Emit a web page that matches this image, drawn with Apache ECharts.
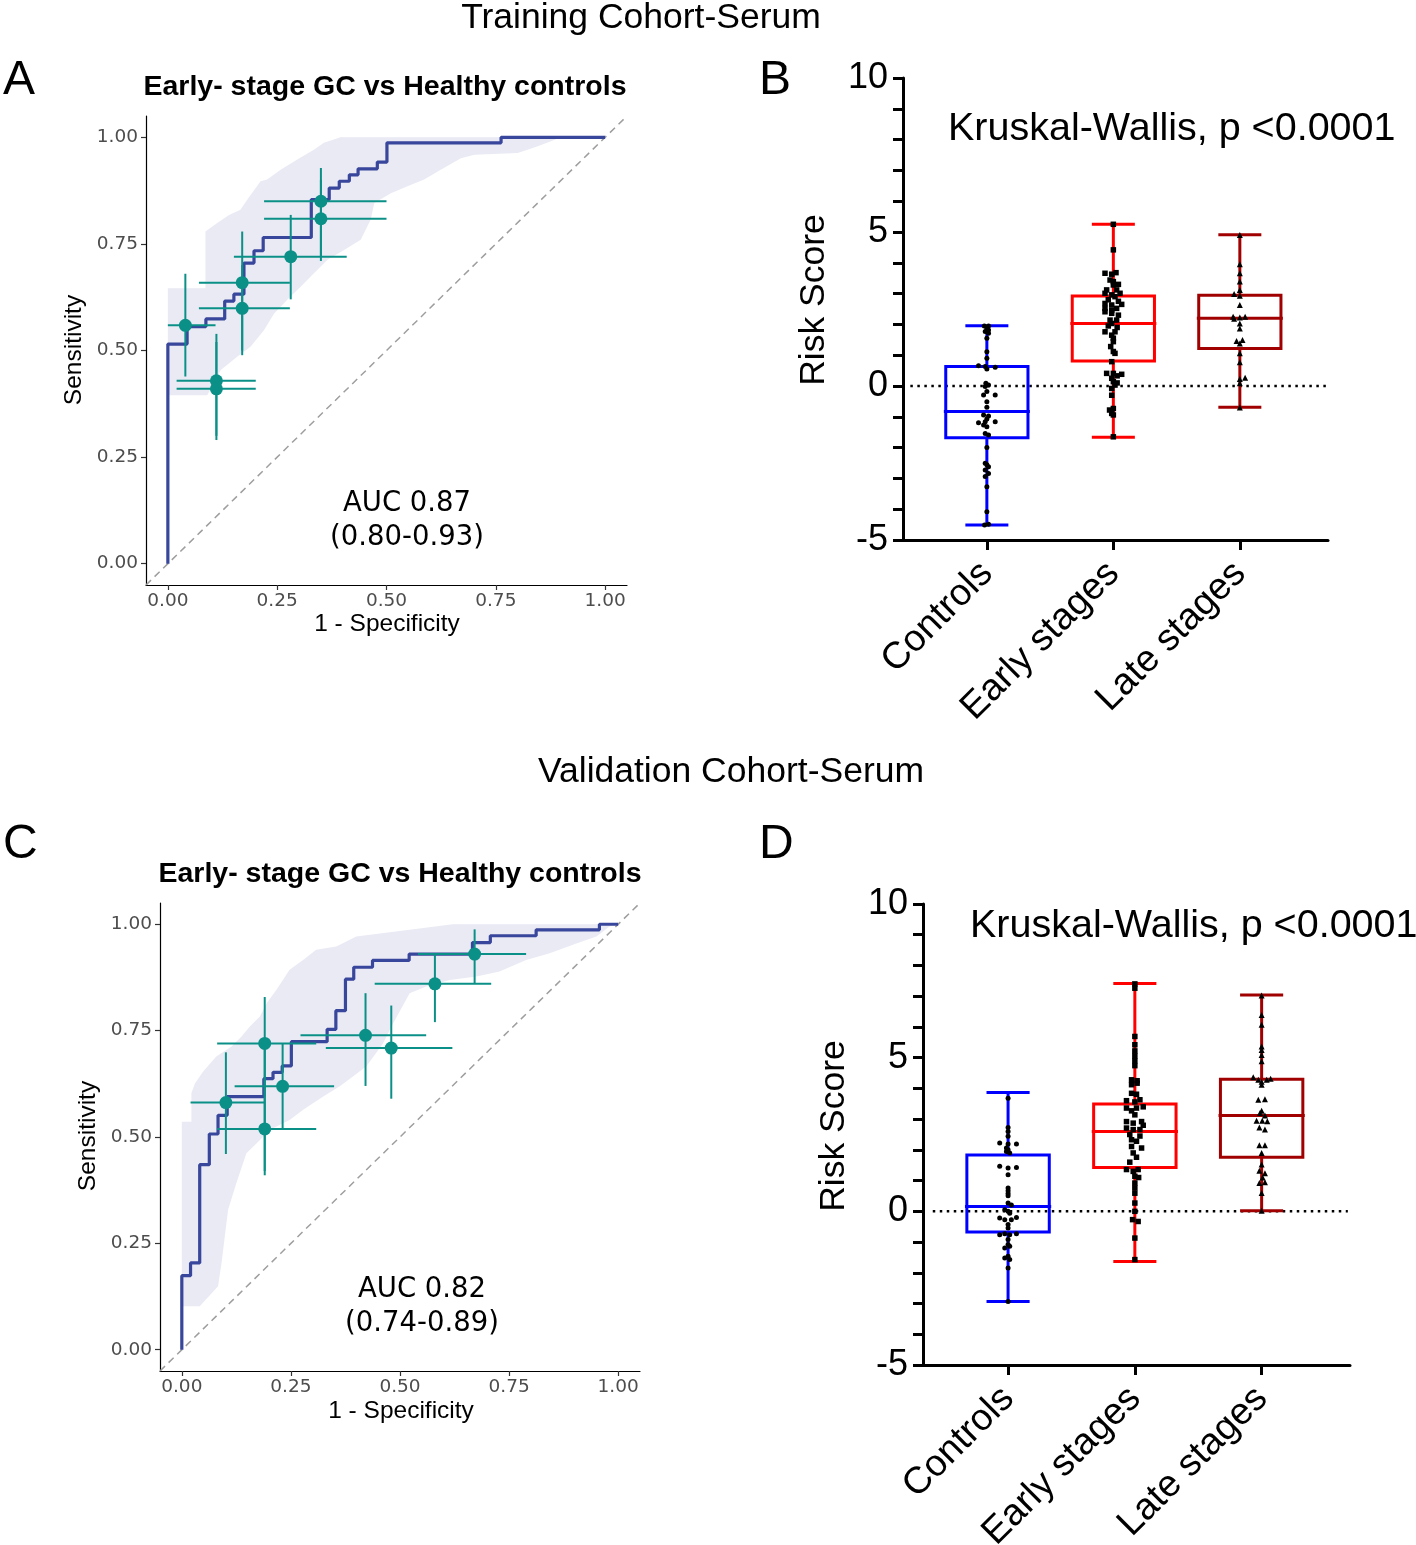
<!DOCTYPE html>
<html><head><meta charset="utf-8">
<script src="https://cdn.jsdelivr.net/npm/echarts@6/dist/echarts.min.js"></script>
<style>html,body{margin:0;padding:0;background:#fff}#c{width:1416px;height:1545px}</style>
</head><body><div id="c"></div>
<script>
// ---------- DATA ----------
const rocTicks = [0, 0.25, 0.5, 0.75, 1];
const boxCategories = ['Controls', 'Early stages', 'Late stages'];

// Panel A ROC (step corners)
const rocA_fpr = [0, 0, 0.044, 0.087, 0.130, 0.151, 0.174, 0.197, 0.218, 0.328, 0.369, 0.392, 0.415, 0.435, 0.479, 0.501, 0.762, 1.0];
const rocA_tpr = [0, 0.515, 0.556, 0.574, 0.616, 0.632, 0.705, 0.734, 0.765, 0.854, 0.881, 0.897, 0.912, 0.926, 0.942, 0.987, 1.0, 1.0];
const bandA_upper = [[0,0.646],[0.086,0.646],[0.086,0.779],[0.113,0.799],[0.14,0.818],[0.166,0.830],[0.182,0.854],[0.212,0.897],[0.227,0.901],[0.258,0.924],[0.296,0.948],[0.334,0.971],[0.357,0.987],[0.395,1.0],[1.0,1.0]];
const bandA_lower = [[0,0.395],[0.09,0.395],[0.121,0.454],[0.159,0.486],[0.189,0.509],[0.22,0.548],[0.243,0.587],[0.273,0.619],[0.304,0.650],[0.334,0.681],[0.365,0.713],[0.403,0.736],[0.441,0.760],[0.464,0.807],[0.472,0.846],[0.51,0.869],[0.548,0.885],[0.586,0.901],[0.624,0.924],[0.670,0.951],[0.701,0.959],[0.8,0.963],[0.846,0.979],[0.876,0.991],[0.899,1.0],[1.0,1.0]];
const ptsA_x   = [0.040, 0.111, 0.111, 0.170, 0.170, 0.281, 0.350, 0.350];
const ptsA_y   = [0.559, 0.429, 0.410, 0.659, 0.599, 0.720, 0.850, 0.809];
const ptsA_xlo = [0.000, 0.020, 0.020, 0.071, 0.071, 0.151, 0.220, 0.220];
const ptsA_xhi = [0.109, 0.201, 0.201, 0.279, 0.279, 0.409, 0.500, 0.500];
const ptsA_ylo = [0.439, 0.300, 0.290, 0.500, 0.489, 0.620, 0.720, 0.710];
const ptsA_yhi = [0.680, 0.539, 0.520, 0.779, 0.700, 0.818, 0.928, 0.900];

// Panel C ROC
const rocC_fpr = [0, 0, 0.020, 0.041, 0.063, 0.083, 0.104, 0.188, 0.209, 0.230, 0.251, 0.333, 0.353, 0.375, 0.394, 0.437, 0.521, 0.666, 0.707, 0.812, 0.957, 1.0];
const rocC_tpr = [0, 0.174, 0.204, 0.435, 0.507, 0.551, 0.595, 0.637, 0.652, 0.667, 0.724, 0.753, 0.797, 0.871, 0.899, 0.915, 0.930, 0.957, 0.973, 0.987, 1.0, 1.0];
const bandC_upper = [[0,0.536],[0.022,0.536],[0.022,0.603],[0.03,0.626],[0.049,0.654],[0.079,0.689],[0.114,0.713],[0.137,0.736],[0.156,0.76],[0.179,0.783],[0.194,0.814],[0.217,0.846],[0.247,0.893],[0.278,0.916],[0.308,0.94],[0.354,0.948],[0.4,0.971],[0.522,0.987],[0.621,1.0],[1.0,1.0]];
const bandC_lower = [[0,0.102],[0.041,0.102],[0.083,0.149],[0.091,0.204],[0.106,0.329],[0.125,0.392],[0.148,0.462],[0.179,0.493],[0.202,0.517],[0.247,0.54],[0.278,0.564],[0.324,0.595],[0.362,0.619],[0.392,0.642],[0.423,0.666],[0.461,0.72],[0.484,0.767],[0.522,0.838],[0.56,0.854],[0.614,0.869],[0.675,0.877],[0.728,0.889],[0.789,0.916],[0.843,0.932],[0.904,0.955],[0.95,0.971],[0.98,0.995],[1.0,1.0]];
const ptsC_x   = [0.101, 0.190, 0.190, 0.231, 0.421, 0.480, 0.580, 0.671];
const ptsC_y   = [0.581, 0.720, 0.519, 0.619, 0.739, 0.709, 0.860, 0.930];
const ptsC_xlo = [0.020, 0.081, 0.081, 0.121, 0.272, 0.330, 0.442, 0.541];
const ptsC_xhi = [0.189, 0.308, 0.308, 0.349, 0.560, 0.620, 0.709, 0.789];
const ptsC_ylo = [0.460, 0.420, 0.410, 0.519, 0.620, 0.590, 0.770, 0.860];
const ptsC_yhi = [0.699, 0.829, 0.720, 0.719, 0.838, 0.809, 0.930, 0.988];

// Box statistics [min, Q1, median, Q3, max]
const boxB_controls = [-4.51, -1.68, -0.83, 0.63, 1.96];
const boxB_early    = [-1.66, 0.81, 2.03, 2.92, 5.25];
const boxB_late     = [-0.69, 1.22, 2.20, 2.95, 4.91];
const boxD_controls = [-2.93, -0.67, 0.16, 1.83, 3.87];
const boxD_early    = [-1.63, 1.43, 2.60, 3.49, 7.41];
const boxD_late     = [0.02, 1.76, 3.12, 4.30, 7.04];

// Individual risk scores: [jitter offset (category units), value]
const ptsB_controls = [[-0.02,1.95],[0.013,1.95],[0,1.87],[0.013,1.82],[-0.013,1.77],[0.013,1.71],[0,1.55],[0,1.11],[0,0.90],[-0.066,0.66],[-0.013,0.63],[0.066,0.61],[0,0.55],[-0.008,0.09],[0.013,0.03],[-0.013,-0.02],[0,-0.18],[-0.026,-0.29],[0.066,-0.29],[0,-0.51],[0,-0.69],[-0.026,-0.94],[0.013,-0.97],[0,-1.07],[-0.066,-1.19],[-0.013,-1.16],[0.066,-1.16],[-0.026,-1.27],[0,-1.32],[-0.013,-1.54],[0.013,-1.59],[0,-2.0],[-0.013,-2.51],[0,-2.56],[0.013,-2.62],[-0.013,-2.73],[0.013,-2.84],[-0.013,-2.94],[0,-3.27],[0,-4.08],[-0.018,-4.51],[0.013,-4.49]];
const ptsB_early = [[0,5.25],[0,4.42],[-0.066,3.66],[-0.013,3.63],[0.021,3.68],[-0.026,3.44],[0,3.39],[0,3.28],[0.04,3.3],[-0.053,3.12],[0.026,3.12],[-0.066,3.01],[-0.013,2.96],[0.053,3.01],[0.013,2.90],[-0.04,2.8],[0.04,2.75],[-0.066,2.68],[-0.013,2.63],[0.066,2.65],[-0.066,2.52],[-0.013,2.46],[0.026,2.52],[-0.066,2.41],[-0.013,2.36],[0.04,2.3],[-0.026,2.14],[0.026,2.14],[-0.013,2.03],[-0.04,1.95],[0.03,1.9],[-0.066,1.76],[0.013,1.76],[-0.013,1.65],[0,1.55],[0,1.44],[-0.021,1.28],[0,1.12],[0.013,1.06],[-0.013,0.79],[-0.053,0.41],[0,0.41],[0.066,0.38],[0.03,0.33],[-0.013,0.25],[0,0.14],[0.03,0.1],[0.013,0.03],[-0.013,-0.08],[-0.013,-0.3],[0,-0.73],[-0.03,-0.78],[-0.013,-0.89],[0,-0.94],[0,-1.65]];
const ptsB_late = [[0,4.90],[0,3.95],[0,3.66],[0,3.39],[0,3.12],[-0.045,2.99],[0,2.93],[0,2.63],[-0.053,2.25],[0,2.22],[0.042,2.25],[-0.045,2.18],[0,2.03],[0,1.87],[-0.026,1.46],[0.021,1.49],[0,1.38],[0,1.06],[0,0.77],[0,0.23],[0.042,0.27],[0,0.09],[0,-0.70]];
const ptsD_controls = [[0,3.68],[0,2.73],[0,2.60],[0,2.44],[-0.066,2.22],[0,2.19],[0.066,2.19],[-0.013,2.06],[0,2.0],[-0.013,1.95],[0.013,1.90],[-0.066,1.47],[0,1.41],[0.066,1.43],[0,1.19],[0,0.76],[0,0.67],[0,0.58],[0,0.51],[0,0.27],[0.026,0.21],[-0.026,0.05],[0,0.0],[0.013,-0.06],[-0.066,-0.22],[-0.026,-0.27],[0.026,-0.27],[0.066,-0.2],[0,-0.43],[0,-0.54],[-0.066,-0.76],[-0.026,-0.73],[0.013,-0.76],[0.066,-0.73],[0,-0.92],[0,-1.08],[-0.026,-1.19],[0.013,-1.14],[0,-1.46],[-0.026,-1.52],[0.013,-1.57],[0,-1.84],[0,-2.93]];
const ptsD_early = [[0,7.4],[0,7.26],[0,5.69],[0,5.42],[0,5.22],[0,5.06],[0,4.90],[0,4.74],[-0.026,4.28],[0.018,4.25],[-0.026,4.12],[0.018,4.17],[-0.026,3.84],[0.013,3.81],[-0.066,3.6],[0,3.56],[0.04,3.63],[0.066,3.4],[-0.066,3.36],[-0.026,3.27],[0.013,3.36],[0,3.14],[-0.066,2.92],[-0.013,2.87],[0.053,2.92],[0.066,2.8],[-0.066,2.71],[-0.013,2.66],[0.04,2.66],[-0.04,2.5],[0.04,2.45],[-0.026,2.33],[0.013,2.28],[-0.026,2.11],[0.053,2.06],[-0.013,1.9],[0.013,1.76],[-0.04,1.6],[-0.066,1.36],[-0.013,1.30],[0.026,1.36],[0,1.14],[0.03,1.1],[0,0.92],[0,0.76],[0,0.59],[0,0.27],[0,0.0],[-0.018,-0.27],[0.026,-0.33],[0,-0.87],[0,-1.57]];
const ptsD_late = [[0,7.02],[0,6.39],[0,6.07],[0,5.36],[0,5.25],[0,5.09],[0,4.88],[-0.066,4.36],[-0.026,4.28],[0,4.22],[0.04,4.28],[0.071,4.31],[0,4.12],[-0.026,3.63],[0.026,3.65],[0,3.27],[-0.013,3.2],[0.026,3.12],[-0.04,2.95],[0.005,2.95],[0.045,2.93],[-0.018,2.73],[0.026,2.66],[-0.018,2.15],[0.026,2.15],[0,1.9],[0,1.52],[-0.018,1.32],[0.026,1.24],[0.008,1.10],[-0.018,0.92],[0.026,0.95],[0,0.6],[0,0.02]];

// ---------- STYLE ----------
const BLUE = '#0000ff', RED = '#ff0000', DARKRED = '#a00000';
const boxColors = [BLUE, RED, DARKRED];
const ROC_LINE = '#38469b', BAND = '#e9eaf4', TEAL = '#0b9087';
const BOX_HALF = 0.325, CAP_HALF = 0.17;
const SANS = '"Liberation Sans", Arial, sans-serif';
const DEJAVU = '"DejaVu Sans", sans-serif';

const chart = echarts.init(document.getElementById('c'), null, {renderer: 'canvas'});

function rocAxis(grid, isX) {
  return {
    type: 'value', gridIndex: grid, min: -0.05, max: 1.05,
    axisLine: {show: true, onZero: false, lineStyle: {color: '#000', width: 1.2}},
    axisTick: {show: true, customValues: rocTicks, length: 5, lineStyle: {color: '#333', width: 1.2}},
    axisLabel: {customValues: rocTicks, formatter: v => v.toFixed(2), fontFamily: DEJAVU, fontSize: 18.5, color: '#4d4d4d', margin: isX ? 7 : 8},
    splitLine: {show: false}
  };
}
function boxXAxis(grid, min) {
  return {
    type: 'value', gridIndex: grid, min: min, max: 3.697,
    axisLine: {show: true, onZero: false, lineStyle: {color: '#000', width: 3}},
    axisTick: {show: true, customValues: [1, 2, 3], length: 10, lineStyle: {color: '#000', width: 3}},
    axisLabel: {customValues: [1, 2, 3], formatter: v => boxCategories[Math.round(v) - 1], rotate: 45, fontFamily: SANS, fontSize: 37.5, color: '#000', margin: 28},
    splitLine: {show: false}
  };
}
function boxYAxis(grid) {
  return {
    type: 'value', gridIndex: grid, min: -5, max: 10, interval: 1,
    axisLine: {show: true, onZero: false, lineStyle: {color: '#000', width: 3}},
    axisTick: {show: true, length: 10, lineStyle: {color: '#000', width: 3}},
    axisLabel: {formatter: v => (v % 5 === 0 ? String(v) : ''), fontFamily: SANS, fontSize: 36, color: '#000', margin: 15},
    splitLine: {show: false}
  };
}

function bandSeries(ax, upper, lower) {
  const poly = upper.concat(lower.slice().reverse());
  return {
    type: 'custom', xAxisIndex: ax, yAxisIndex: ax, z: 1, silent: true,
    data: [[0, 0]],
    renderItem: (params, api) => ({
      type: 'polygon',
      shape: {points: poly.map(p => api.coord(p))},
      style: {fill: BAND, stroke: 'none'}
    })
  };
}
function diagSeries(ax) {
  return {type: 'line', xAxisIndex: ax, yAxisIndex: ax, z: 2, symbol: 'none', silent: true,
    data: [[-0.05, -0.05], [1.05, 1.05]],
    lineStyle: {color: '#9e9e9e', width: 1.5, type: [7, 5]}};
}
function rocSeries(ax, fpr, tpr) {
  return {type: 'line', xAxisIndex: ax, yAxisIndex: ax, z: 3, symbol: 'none', step: 'end', silent: true,
    data: fpr.map((f, i) => [f, tpr[i]]),
    lineStyle: {color: ROC_LINE, width: 3.2}};
}
function errSeries(ax, xs, ys, xlo, xhi, ylo, yhi) {
  return {type: 'custom', xAxisIndex: ax, yAxisIndex: ax, z: 4, silent: true,
    data: xs.map((x, i) => [x, ys[i], xlo[i], xhi[i], ylo[i], yhi[i]]),
    encode: {x: 0, y: 1},
    renderItem: (params, api) => {
      const x = api.value(0), y = api.value(1);
      const h1 = api.coord([api.value(2), y]), h2 = api.coord([api.value(3), y]);
      const v1 = api.coord([x, api.value(4)]), v2 = api.coord([x, api.value(5)]);
      const st = {stroke: TEAL, lineWidth: 2};
      return {type: 'group', children: [
        {type: 'line', shape: {x1: h1[0], y1: h1[1], x2: h2[0], y2: h2[1]}, style: st},
        {type: 'line', shape: {x1: v1[0], y1: v1[1], x2: v2[0], y2: v2[1]}, style: st}
      ]};
    }};
}
function dotSeries(ax, xs, ys) {
  return {type: 'scatter', xAxisIndex: ax, yAxisIndex: ax, z: 5, silent: true,
    symbol: 'circle', symbolSize: 13, itemStyle: {color: TEAL, opacity: 1},
    data: xs.map((x, i) => [x, ys[i]])};
}
function boxSeries(ax, stats) {
  return {type: 'custom', xAxisIndex: ax, yAxisIndex: ax, z: 3, silent: true,
    data: stats.map((s, i) => [i + 1].concat(s)),
    encode: {x: 0, y: [1, 2, 3, 4, 5]},
    renderItem: (params, api) => {
      const x = api.value(0), mn = api.value(1), q1 = api.value(2), md = api.value(3), q3 = api.value(4), mx = api.value(5);
      const c = boxColors[params.dataIndex];
      const tl = api.coord([x - BOX_HALF, q3]), br = api.coord([x + BOX_HALF, q1]);
      const pMax = api.coord([x, mx]), pQ3 = api.coord([x, q3]), pQ1 = api.coord([x, q1]), pMin = api.coord([x, mn]);
      const cl = api.coord([x - CAP_HALF, mx])[0], cr = api.coord([x + CAP_HALF, mx])[0];
      const ml = api.coord([x - BOX_HALF - 0.015, md]), mr = api.coord([x + BOX_HALF + 0.015, md]);
      const st = {stroke: c, lineWidth: 3};
      return {type: 'group', children: [
        {type: 'rect', shape: {x: tl[0], y: tl[1], width: br[0] - tl[0], height: br[1] - tl[1]}, style: {stroke: c, lineWidth: 3, fill: 'none'}},
        {type: 'line', shape: {x1: ml[0], y1: ml[1], x2: mr[0], y2: mr[1]}, style: st},
        {type: 'line', shape: {x1: pMax[0], y1: pMax[1], x2: pQ3[0], y2: pQ3[1]}, style: st},
        {type: 'line', shape: {x1: pQ1[0], y1: pQ1[1], x2: pMin[0], y2: pMin[1]}, style: st},
        {type: 'line', shape: {x1: cl, y1: pMax[1], x2: cr, y2: pMax[1]}, style: st},
        {type: 'line', shape: {x1: cl, y1: pMin[1], x2: cr, y2: pMin[1]}, style: st}
      ]};
    }};
}
function jitterSeries(ax, center, pts, symbol, size) {
  return {type: 'scatter', xAxisIndex: ax, yAxisIndex: ax, z: 4, silent: true,
    symbol: symbol, symbolSize: size, itemStyle: {color: '#000', opacity: 1},
    data: pts.map(p => [center + p[0], p[1]])};
}
function zeroLine(ax, x0, x1) {
  return {type: 'line', xAxisIndex: ax, yAxisIndex: ax, z: 2, symbol: 'none', silent: true,
    data: [[x0, 0], [x1, 0]],
    lineStyle: {color: '#000', width: 2.5, type: [2.5, 4.5], cap: 'butt'}};
}

function txt(text, x, y, size, opts) {
  opts = opts || {};
  return {type: 'text', x: x, y: y, rotation: opts.rot || 0, silent: true,
    style: {text: text, fontSize: size, fontFamily: opts.family || SANS, fontWeight: opts.weight || 'normal',
      fill: opts.color || '#000', align: opts.align || 'center', verticalAlign: 'middle',
      textAlign: opts.align || 'center', textVerticalAlign: 'middle'}};
}

const option = {
  backgroundColor: '#fff',
  animation: false,
  grid: [
    {left: 146, top: 116, width: 481, height: 469, outerBoundsMode: 'none'},
    {left: 903, top: 78, width: 425, height: 462, outerBoundsMode: 'none'},
    {left: 160, top: 903, width: 480, height: 468, outerBoundsMode: 'none'},
    {left: 923, top: 904, width: 427, height: 461, outerBoundsMode: 'none'}
  ],
  xAxis: [rocAxis(0, true), boxXAxis(1, 0.337), rocAxis(2, true), boxXAxis(3, 0.329)],
  yAxis: [rocAxis(0, false), boxYAxis(1), rocAxis(2, false), boxYAxis(3)],
  series: [
    bandSeries(0, bandA_upper, bandA_lower),
    diagSeries(0),
    rocSeries(0, rocA_fpr, rocA_tpr),
    errSeries(0, ptsA_x, ptsA_y, ptsA_xlo, ptsA_xhi, ptsA_ylo, ptsA_yhi),
    dotSeries(0, ptsA_x, ptsA_y),

    zeroLine(1, 0.395, 3.686),
    boxSeries(1, [boxB_controls, boxB_early, boxB_late]),
    jitterSeries(1, 1, ptsB_controls, 'circle', 5),
    jitterSeries(1, 2, ptsB_early, 'rect', 5.5),
    jitterSeries(1, 3, ptsB_late, 'triangle', 6),

    bandSeries(2, bandC_upper, bandC_lower),
    diagSeries(2),
    rocSeries(2, rocC_fpr, rocC_tpr),
    errSeries(2, ptsC_x, ptsC_y, ptsC_xlo, ptsC_xhi, ptsC_ylo, ptsC_yhi),
    dotSeries(2, ptsC_x, ptsC_y),

    zeroLine(3, 0.406, 3.68),
    boxSeries(3, [boxD_controls, boxD_early, boxD_late]),
    jitterSeries(3, 1, ptsD_controls, 'circle', 5),
    jitterSeries(3, 2, ptsD_early, 'rect', 5.5),
    jitterSeries(3, 3, ptsD_late, 'triangle', 6)
  ],
  graphic: [
    txt('Training Cohort-Serum', 641, 18, 35.5),
    txt('Validation Cohort-Serum', 731, 772, 35.5),
    txt('A', 3, 81, 48, {align: 'left'}),
    txt('B', 759, 81, 48, {align: 'left'}),
    txt('C', 3, 845, 48, {align: 'left'}),
    txt('D', 759, 845, 48, {align: 'left'}),
    txt('Early- stage GC vs Healthy controls', 385, 87, 28.5, {weight: 'bold'}),
    txt('Early- stage GC vs Healthy controls', 400, 874, 28.5, {weight: 'bold'}),
    txt('Sensitivity', 74, 350, 24.5, {rot: Math.PI / 2}),
    txt('Sensitivity', 88, 1136, 24.5, {rot: Math.PI / 2}),
    txt('1 - Specificity', 387, 624, 24.5),
    txt('1 - Specificity', 401, 1411, 24.5),
    txt('AUC 0.87', 407, 504, 27.5, {family: DEJAVU}),
    txt('(0.80-0.93)', 407, 538, 27.5, {family: DEJAVU}),
    txt('AUC 0.82', 422, 1290, 27.5, {family: DEJAVU}),
    txt('(0.74-0.89)', 422, 1324, 27.5, {family: DEJAVU}),
    txt('Kruskal-Wallis, p <0.0001', 948, 129, 39.5, {align: 'left'}),
    txt('Kruskal-Wallis, p <0.0001', 970, 926, 39.5, {align: 'left'}),
    txt('Risk Score', 814, 300, 35.5, {rot: Math.PI / 2}),
    txt('Risk Score', 834, 1126, 35.5, {rot: Math.PI / 2})
  ]
};
chart.setOption(option);
</script>
</body></html>
